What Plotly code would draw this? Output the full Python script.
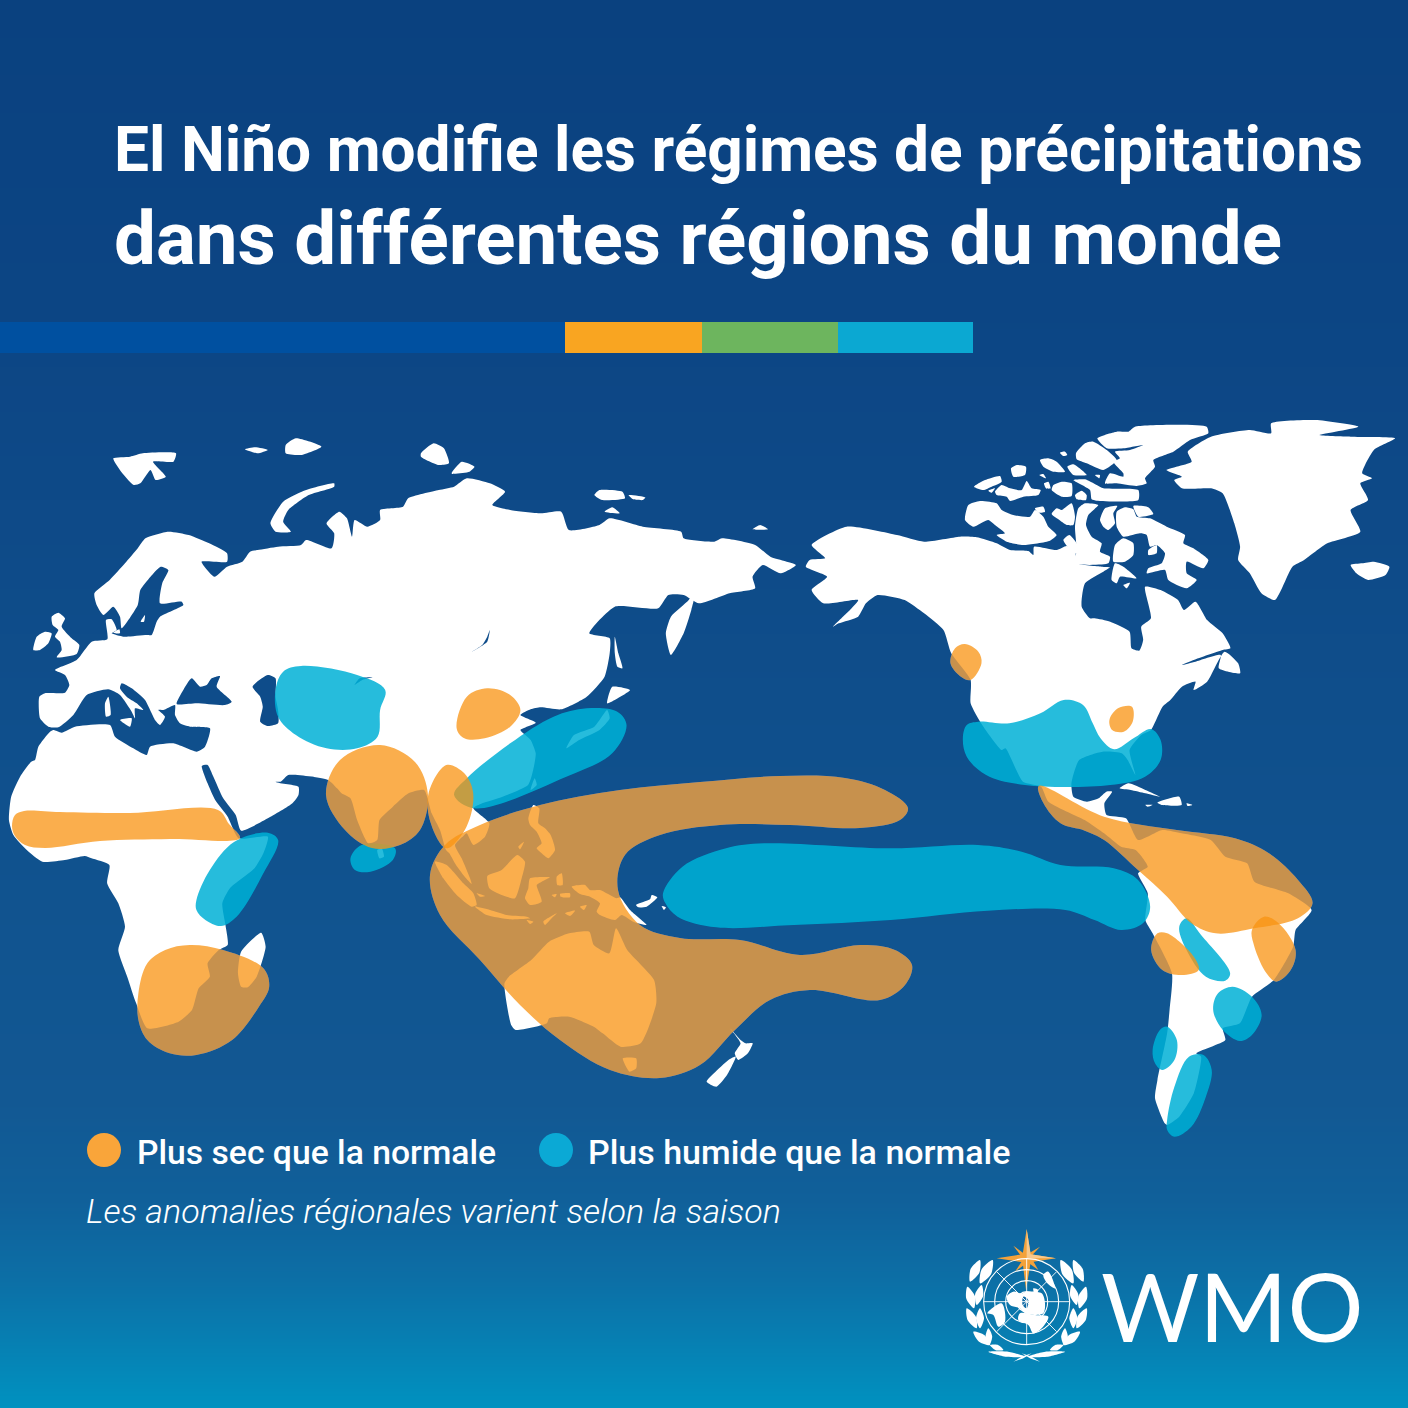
import plotly.graph_objects as go

# ---------- text ----------
TITLE_LINE_1 = "El Niño modifie les régimes de précipitations"
TITLE_LINE_2 = "dans différentes régions du monde"
LEGEND_DRY = "Plus sec que la normale"
LEGEND_WET = "Plus humide que la normale"
NOTE = "Les anomalies régionales varient selon la saison"
LOGO_TEXT = "WMO"

# ---------- background gradient ----------
BG_Y = [0, 300, 700, 1100, 1200, 1280, 1340, 1408]
BG_COLORS = ["#0A417F", "#0C4584", "#0F4E8B", "#125893", "#10609A", "#0C6FA6", "#077FB2", "#0092C0"]

# ---------- colour strip ----------
STRIP_EDGES = [0, 565, 702, 838, 973]
STRIP_COLORS = ["#0050A0", "#F9A521", "#6DB55E", "#0BA8D2"]

V1 = (0, 420, 1.96, 3)
V2 = (800, 410, 2.579, 3)
V3 = (0, 760, 2.24, 3)
V4 = (600, 760, 2.063, 3)
V5 = (950, 1220, 3, 3)
V6 = (960, 420, 3, 3)
V7 = (430, 790, 3, 3)
V8 = (20, 600, 3, 3)
V9 = (960, 1225, 3, 3)

def cv(view, pts):
    x0, y0, sx, sy = view
    return [(x0 + p[0] / sx, y0 + p[1] / sy) for p in pts]

EURASIA_AFRICA = (
    cv(V1, [(185,520),(215,480),(245,430),(270,385),(285,355),(330,335),(370,345),(410,370),(445,400),(445,425),(395,425),(420,470),(445,440),(475,425),(490,395),(505,390),(545,380),(590,375),(600,360),(650,385),(655,340),(640,310),(665,275),(680,295),(690,350),(695,300),(720,320),(745,300),(745,270),(790,260),(800,235),(860,210),(890,200),(915,175),(960,190),(990,215),(965,255),(1000,270),(1060,280),(1100,275),(1115,330),(1175,315),(1195,295),(1260,320),(1335,335),(1340,355),(1400,365),(1415,355),(1480,375),(1510,410),(1560,435),(1530,460),(1495,435),(1475,470),(1480,505),(1430,520),(1370,550),(1340,525),(1310,525),(1290,565),(1205,560),(1155,640),(1195,655),(1195,700),(1185,770),(1150,830),(1100,868),(1060,862),(1040,868),(1020,885),(1050,908),(1020,930),(1040,960),(1050,1000),(1045,1050),(1035,1095),(985,1130),(945,1150)])
    + cv(V7, [(130,55),(178,100),(165,140),(130,165),(110,130),(100,138),(75,165),(95,205),(120,265),(125,282),(108,265),(78,225),(58,190),(48,180),(30,120),(5,70)])
    + cv(V3, [(950,90),(915,100),(880,140),(850,180),(845,240),(825,250),(800,180),(785,115),(765,100),(755,85),(735,60),(650,40)])
    + cv(V1, [(640,1075),(565,1065),(550,1085),(525,1080),(505,1010),(515,1035),(540,1085),(585,1100),(585,1125)])
    + cv(V3, [(655,130),(600,175),(540,212),(528,165),(500,115),(478,50),(465,15),(452,18),(465,70),(482,120),(510,170),(535,235),(600,230),(590,280),(570,325),(515,385),(498,430),(505,495),(510,555),(490,570),(465,610),(470,650),(445,685),(430,750),(400,785),(330,805),(305,730),(285,650),(265,570),(280,500),(265,430),(240,370),(245,315),(205,295),(190,288),(145,300),(95,305),(60,270),(30,225),(20,180),(25,110),(45,50),(70,5)])
    + cv(V8, [(45,480),(55,440),(90,395),(100,390),(125,398),(165,380),(270,375),(285,410),(340,445),(380,465),(390,440),(460,430),(530,455),(555,440),(570,385),(510,380),(480,370),(465,345),(465,315),(430,330),(415,330),(435,350),(420,375),(405,360),(395,340),(375,300),(335,265),(305,250),(300,265),(320,290),(350,310),(370,330),(345,325),(345,355),(335,335),(300,285),(265,268),(200,285),(160,345),(115,382),(85,380),(60,355),(58,290),(75,280),(135,278),(148,255),(135,225),(105,210),(170,180),(215,125),(262,118),(258,60),(275,58),(290,90),(275,100),(310,110),(320,110),(380,105),(395,105),(410,65),(420,50),(490,15),(485,5),(420,10)])
    + cv(V1, [(318,490),(330,450),(315,440),(295,470),(275,510),(270,555)])
    + cv(V8, [(305,85),(300,50),(280,20),(250,45),(230,15)])
)
AMERICAS = (
    cv(V2, [(30,405),(120,350),(250,375),(320,395)])
    + cv(V6, [(0,350),(50,352),(110,370),(150,390),(205,393),(220,405),(222,380),(290,390),(320,378),(345,395),(352,430),(425,440),(450,442),(430,455),(375,490),(365,560),(390,595)])
    + cv(V2, [(760,625),(800,635),(850,665),(855,715),(875,722),(885,690),(880,650),(905,625),(890,530),(930,540),(975,570),(990,600),(1020,575),(1050,630),(1090,670),(1110,715),(1090,720),(1015,750),(985,765),(1020,755),(1085,735),(1080,775),(1135,790),(1130,760),(1095,725),(1050,815),(1015,840),(1020,815),(985,830),(955,870),(935,890),(905,960),(880,975),(850,1020),(865,1095),(845,1050),(830,1030),(780,1025),(720,1050),(700,1120),(705,1160),(740,1175),(770,1165),(790,1145),(805,1145),(785,1180)])
    + cv(V4, [(1045,165),(1085,175),(1110,240),(1160,210),(1200,220),(1260,240),(1290,290),(1335,310),(1350,365),(1420,400),(1468,450),(1435,510),(1430,560),(1390,660),(1345,710),(1320,790),(1285,805),(1290,840),(1230,880),(1240,890),(1225,1000),(1195,1070),(1170,1095),(1165,1090),(1145,1015),(1150,960),(1170,820),(1175,750),(1180,640),(1140,520),(1125,480),(1130,400),(1110,340),(1130,320),(1105,270),(1075,260),(1040,220),(1000,180),(925,125),(910,80)])
    + cv(V2, [(575,1115),(530,1015),(520,1020),(470,945),(440,880),(440,810),(390,730),(370,660),(320,610),(270,570),(200,555),(170,580),(150,620),(100,640),(85,650),(120,610),(150,570),(60,580),(30,540),(70,500),(15,470),(25,450),(65,445)])
)
GREENLAND = cv(V2, [(945,180),(1010,155),(1000,125),(1060,80),(1160,60),(1215,70),(1215,40),(1330,30),(1440,50),(1340,75),(1420,80),(1535,85),(1480,120),(1450,190),(1475,205),(1445,220),(1465,270),(1420,300),(1445,365),(1360,400),(1300,450),(1270,470),(1225,570),(1190,550),(1160,490),(1130,450),(1135,410),(1120,340),(1090,250),(1060,235),(985,235),(965,210),(985,200)])
ISLANDS = [
    cv(V1, p) for p in [
        [(222,115),(255,110),(280,100),(345,100),(340,125),(300,125),(325,170),(305,180),(295,150),(275,190),(262,195),(235,150)],
        [(480,88),(500,82),(525,90),(505,100)],
        [(560,75),(580,55),(630,80),(590,105),(560,100)],
        [(530,310),(555,245),(600,210),(655,190),(655,200),(605,225),(565,270),(555,305),(570,335),(540,335)],
        [(825,100),(850,70),(870,85),(880,130),(860,135),(825,110)],
        [(885,160),(905,125),(930,140),(920,155)],
        [(1165,225),(1175,210),(1220,215),(1225,235),(1180,240)],
        [(1232,225),(1265,232),(1260,240),(1240,237)],
        [(1185,275),(1200,262),(1215,280)],
        [(1475,328),(1490,315),(1505,328)],
        [(1205,650),(1212,700),(1220,745),(1210,740),(1205,700)],
        [(1365,505),(1355,570),(1340,640),(1315,705),(1305,640),(1315,590),(1350,540)],
        [(1190,850),(1200,800),(1235,810),(1205,840)],
        [(1110,985),(1125,945),(1165,920),(1190,870),(1195,895),(1175,930),(1135,960)],
        [(1040,1110),(1048,1075),(1052,1095)],
    ]
] + [
    cv(V8, p) for p in [
        [(95,50),(115,38),(135,55),(125,80),(155,115),(178,135),(170,162),(110,172),(125,150),(120,125),(105,110),(115,90),(98,75)],
        [(40,150),(50,110),(75,95),(95,100),(85,130),(60,150)],
        [(255,310),(265,290),(272,345),(258,350)],
        [(300,360),(335,355),(330,380)],
        [(362,65),(375,45),(372,65)],
        [(280,98),(298,88),(300,100)],
    ]
] + [
    cv(V3, p) for p in [
        [(845,270),(855,265),(860,290),(850,295)],
        [(540,575),(585,518),(595,560),(575,650),(555,682),(540,680),(533,640)],
        [(1140,650),(1190,600),(1230,545),(1275,520),(1320,515),(1330,555),(1365,580),(1380,505),(1405,570),(1465,660),(1470,730),(1435,850),(1390,860),(1350,820),(1330,800),(1275,770),(1230,775),(1225,790),(1155,810),(1145,795),(1130,670)],
        [(1395,895),(1425,895),(1425,925),(1410,935)],
    ]
] + [
    cv(V7, p) for p in [
        [(295,85),(310,45),(328,55),(325,100),(345,115),(362,135),(375,180),(355,205),(335,190),(320,175),(335,160),(320,125),(300,105)],
        [(265,170),(282,155),(270,178)],
        [(172,258),(215,240),(262,195),(285,215),(275,265),(255,325),(215,315),(178,295)],
        [(300,265),(360,262),(335,275),(320,285),(335,335),(300,345),(285,325),(295,295)],
        [(380,260),(395,250),(398,285),(382,285)],
        [(15,215),(50,225),(100,280),(130,310),(140,345),(125,350),(80,315),(40,265)],
        [(140,310),(165,318),(150,320)],
        [(135,350),(180,360),(230,375),(290,380),(300,385),(240,388),(170,375)],
        [(290,390),(310,395),(300,402)],
        [(340,395),(380,370),(365,385),(345,405)],
        [(365,315),(380,312),(375,322)],
        [(390,312),(420,310),(420,322),(392,320)],
        [(450,350),(470,345),(462,360)],
        [(405,370),(435,362),(420,378)],
        [(425,290),(465,285),(480,300),(510,300),(560,325),(570,322),(600,360),(650,405),(610,395),(575,375),(555,390),(510,375),(500,365),(510,340),(480,320),(450,312)],
        [(618,345),(660,328),(665,315),(682,322),(650,350),(625,352)],
        [(695,348),(708,352),(702,360)],
    ]
] + [
    cv(V4, p) for p in [
        [(268,805),(290,840),(300,850),(315,850),(305,880),(285,900),(278,880),(290,850)],
        [(280,890),(262,945),(240,980),(220,965),(235,940),(265,900)],
        [(1072,85),(1090,70),(1125,90),(1155,110),(1125,100),(1095,90)],
        [(1150,128),(1195,110),(1200,135),(1160,135)],
        [(1210,130),(1222,135),(1212,138)],
        [(1125,135),(1140,135),(1130,140)],
    ]
] + [
    cv(V6, p) for p in [
        [(15,300),(25,255),(60,243),(110,250),(125,270),(160,285),(210,290),(225,270),(250,290),(265,320),(290,345),(270,362),(190,375),(140,365),(110,345),(135,340),(105,315),(85,300),(40,320)],
        [(42,200),(75,180),(120,168),(125,185),(95,200),(70,210)],
        [(85,212),(105,205),(95,218)],
        [(105,215),(125,195),(150,205),(185,210),(200,183),(215,205),(242,210),(235,225),(190,230),(150,243),(140,230),(110,225)],
        [(153,145),(170,135),(198,140),(195,165),(160,170)],
        [(240,120),(265,115),(290,125),(315,155),(280,155),(250,140)],
        [(322,140),(340,133),(365,150),(380,165),(340,165)],
        [(300,98),(315,95),(322,105),(310,108)],
        [(238,165),(250,162),(258,175)],
        [(280,195),(305,185),(335,190),(335,228),(305,230),(275,210)],
        [(252,190),(265,185),(272,205),(258,205)],
        [(345,225),(365,212),(380,225),(378,240),(350,238)],
        [(340,180),(375,178),(410,195),(430,205),(535,210),(535,240),(410,242),(395,238),(390,210)],
        [(412,55),(470,35),(505,35),(525,20),(740,20),(745,40),(690,60),(640,95),(580,120),(585,140),(555,175),(560,190),(530,198),(470,190),(435,190),(450,160),(490,170),(490,160),(460,125),(480,115),(465,95),(510,90),(550,75),(490,85),(440,85)],
        [(348,100),(375,70),(400,65),(440,90),(470,120),(430,150),(380,130),(350,118)],
        [(405,165),(420,165),(418,175)],
        [(275,282),(290,265),(305,270),(335,250),(345,290),(340,315),(320,315),(295,298)],
        [(225,265),(250,260),(255,275),(235,278)],
        [(345,320),(355,265),(375,250),(415,255),(385,285),(378,315),(395,350),(425,370),(420,395),(450,410),(445,430),(340,430),(350,395)],
        [(465,375),(490,355),(520,370),(520,405),(495,425),(460,425)],
        [(310,360),(328,345),(350,370),(355,400),(340,400)],
        [(470,275),(495,262),(520,268),(530,290),(570,295),(620,320),(675,345),(670,370),(700,385),(745,420),(730,445),(680,425),(680,460),(710,480),(680,505),(625,480),(615,450),(560,460),(565,445),(605,430),(615,400),(590,375),(570,380),(560,345),(540,340),(490,350),(470,320)],
        [(520,258),(565,262),(580,282),(535,290)],
        [(420,300),(435,265),(472,258),(460,280),(465,310),(445,330),(430,320)],
        [(565,390),(590,375),(590,400),(565,405)],
        [(455,480),(465,430),(490,440),(530,475),(480,470),(470,490)],
        [(490,495),(510,488),(500,505)],
    ]
] + [
    cv(V2, [(1420,465),(1450,460),(1480,455),(1520,470),(1510,495),(1465,510),(1435,490)]),
]
WATER = [
    cv(V1, [(495,800),(525,765),(540,775),(540,830),(545,870),(545,910),(525,918),(510,905),(515,860),(510,830)]),
    cv(V8, [(470,312),(490,270),(515,235),(540,260),(560,255),(575,235),(600,228),(590,260),(635,305),(615,315),(530,310)]),
    cv(V1, [(960,630),(955,665),(925,695),(945,675),(955,650)]),
    cv(V1, [(695,795),(705,775),(730,772),(710,780)]),
]

DRY_ZONES = [
    [(12,826),(15,815),(24,811),(60,812),(130,813),(218,810),(229,824),(240,838),(170,839),(100,841),(45,848),(25,845),(15,836)],
    cv(V3, [(310,700),(330,610),(370,570),(425,555),(500,570),(590,625),(603,680),(580,740),(520,840),(440,885),(380,880),(330,840),(310,780)]),
    [(326,795),(340,760),(380,745),(415,762),(428,795),(420,830),(400,845),(372,848),(345,830)],
    cv(V3, [(960,100),(965,190),(1000,265),(1045,200),(1060,100),(1040,40),(1000,15)]),
    [(908,808),(885,790),(845,778),(780,776),(700,782),(620,790),(540,805),(480,825),(445,845),(430,875),(440,915),(480,960),(520,1005),(560,1040),(610,1070),(660,1078),(700,1065),(735,1030),(770,1000),(810,990),(880,1000),(905,985),(912,965),(895,950),(860,945),(800,955),(740,940),(680,938),(640,925),(618,890),(625,855),(660,835),(720,825),(790,825),(860,828),(900,820)],
    cv(V1, [(895,925),(915,830),(955,805),(1000,825),(1020,870),(1000,920),(950,955),(910,955)]),
    cv(V2, [(388,760),(400,715),(425,702),(460,725),(468,760),(440,810),(415,800)]),
    cv(V2, [(798,930),(820,895),(856,890),(858,935),(835,965),(805,960)]),
    cv(V4, [(905,78),(1040,170),(1190,210),(1310,235),(1380,280),(1440,360),(1470,430),(1440,475),(1350,505),(1270,520),(1220,490),(1170,410),(1110,330),(1040,240),(1000,212),(950,190),(915,130)]),
    cv(V4, [(1345,510),(1370,470),(1400,490),(1435,570),(1425,630),(1395,665),(1375,640),(1350,560)]),
    cv(V4, [(1137,570),(1150,520),(1170,520),(1225,590),(1235,630),(1200,645),(1160,630)]),
]
WET_ZONES = [
    cv(V4, [(130,400),(170,320),(260,265),(340,250),(600,265),(780,255),(870,275),(950,315),(1060,325),(1110,360),(1135,440),(1120,490),(1075,510),(1020,480),(960,450),(800,452),(600,480),(400,495),(240,502),(160,470),(135,430)]),
    cv(V1, [(540,810),(555,755),(590,738),(700,765),(755,810),(745,870),(740,950),(700,985),(640,985),(580,945),(545,890)]),
    cv(V1, [(915,1075),(1000,970),(1085,890),(1150,865),(1210,875),(1228,915),(1200,1000),(1110,1070),(930,1165),(890,1125)]),
    cv(V3, [(440,420),(470,330),(525,245),(600,218),(623,240),(590,340),(530,470),(495,498),(460,480),(440,450)]),
    cv(V3, [(785,295),(810,255),(885,265),(880,300),(830,335),(795,330)]),
    cv(V2, [(420,985),(430,945),(460,935),(540,940),(620,910),(680,870),(730,885),(755,940),(775,985),(810,1018),(860,985),(905,957),(930,990),(930,1050),(890,1100),(800,1125),(580,1125),(480,1095),(430,1040)]),
    cv(V4, [(1195,500),(1210,475),(1240,525),(1300,640),(1290,662),(1250,650),(1210,570)]),
    cv(V4, [(1265,750),(1275,700),(1305,680),(1345,710),(1365,765),(1345,825),(1320,843),(1285,810)]),
    cv(V4, [(1140,870),(1155,810),(1170,800),(1190,840),(1185,900),(1160,930),(1145,910)]),
    cv(V4, [(1170,1080),(1185,980),(1215,890),(1245,885),(1262,930),(1250,1010),(1220,1100),(1185,1130),(1170,1110)]),
]

# ---------- logo ----------
LOGO_CENTER = cv(V9, [(200, 230)])[0]
LOGO_RADII = [43, 32, 21, 10]
STAR_MAIN = cv(V9, [(200,12),(212,88),(288,100),(212,112),(198,195),(188,112),(110,100),(188,88)])
STAR_DIAG = cv(V9, [(240,65),(212,95),(235,135),(203,112),(165,140),(190,102),(160,62),(198,90)])
STAR_SHADE = cv(V9, [(200,12),(212,88),(288,100),(200,100)])
GLOBE_LAND = [
    cv(V9, [(82,265),(125,235),(135,290),(115,305),(100,270)]),
    cv(V9, [(140,215),(160,200),(185,205),(200,200),(245,205),(255,235),(250,265),(225,270),(195,265),(180,250),(150,240)]),
    cv(V9, [(180,265),(225,270),(265,275),(245,310),(220,325),(205,300),(175,285)]),
    cv(V9, [(250,150),(265,140),(285,190),(262,175)]),
    cv(V9, [(220,190),(235,195),(225,210)]),
]
GLOBE_WATER = [cv(V9, [(190,215),(205,225),(200,250),(188,240)])]
LEAVES_LEFT = [(60,105,30,170),(98,105,60,175),(22,185,42,250),(65,180,50,240),(20,250,50,310),(60,250,60,310),(40,320,90,360),(85,310,88,360),(90,360,130,375),(85,380,195,395)]
LOGO_STEMS = [(160,410,215,385),(240,410,185,385)]

COL_DRY_TOP = "rgba(248,147,18,0.75)"
COL_DRY_UNDER = "rgb(55,139,255)"
COL_WET_TOP = "rgba(0,176,214,0.85)"
COL_WET_UNDER = "rgb(2,88,148)"
WATER_COLOR = "#0E4C8A"

# ---------- figure ----------
fig = go.Figure()
fig.add_trace(go.Heatmap(
    x=[-10, 1420], y=BG_Y, z=[[v, v] for v in BG_Y], zsmooth="best", showscale=False, hoverinfo="skip",
    zmin=0, zmax=1408, colorscale=[[y / 1408, c] for y, c in zip(BG_Y, BG_COLORS)],
))

def poly(pts, color, smooth=0.0):
    fig.add_trace(go.Scatter(
        x=[p[0] for p in pts] + [pts[0][0]], y=[p[1] for p in pts] + [pts[0][1]],
        mode="lines", fill="toself", fillcolor=color, hoverinfo="skip", showlegend=False,
        line=dict(width=0, color="rgba(0,0,0,0)", shape="spline" if smooth else "linear", smoothing=smooth or None),
    ))

for z in WET_ZONES:
    poly(z, COL_WET_UNDER, 1.0)
for z in DRY_ZONES:
    poly(z, COL_DRY_UNDER, 1.0)
for part in [EURASIA_AFRICA, AMERICAS, GREENLAND] + ISLANDS:
    poly(part, "white", 0.55)
for w in WATER:
    poly(w, WATER_COLOR, 0.6)
for z in WET_ZONES:
    poly(z, COL_WET_TOP, 1.0)
for z in DRY_ZONES:
    poly(z, COL_DRY_TOP, 1.0)

# legend dots
fig.add_trace(go.Scatter(x=[104, 556], y=[1150, 1150], mode="markers", hoverinfo="skip", showlegend=False,
                         marker=dict(size=34, color=["#F9A53A", "#0BA9D5"], line=dict(width=0))))

# logo
cx, cy = LOGO_CENTER
shapes = []
for r in LOGO_RADII:
    shapes.append(dict(type="circle", x0=cx - r, x1=cx + r, y0=cy - r, y1=cy + r,
                       line=dict(color="white", width=1.1), fillcolor="rgba(0,0,0,0)"))
for a, b, c, d in [(cx - 43, cy, cx + 43, cy), (cx, cy - 43, cx, cy + 43),
                   (cx - 30, cy - 30, cx + 30, cy + 30), (cx - 30, cy + 30, cx + 30, cy - 30)]:
    shapes.append(dict(type="line", x0=a, y0=b, x1=c, y1=d, line=dict(color="white", width=0.9)))
for i, col in enumerate(STRIP_COLORS):
    shapes.append(dict(type="rect", x0=STRIP_EDGES[i], x1=STRIP_EDGES[i + 1], y0=322, y1=353,
                       fillcolor=col, line=dict(width=0)))

for g in GLOBE_LAND:
    poly(g, "white", 0.9)
for g in GLOBE_WATER:
    poly(g, "#0F6AA4", 0.9)
def leaf(x1, y1, x2, y2, w=0.2):
    mx, my = (x1 + x2) / 2, (y1 + y2) / 2
    nx, ny = -(y2 - y1) * w, (x2 - x1) * w
    return cv(V9, [(x1, y1), (mx + nx, my + ny), (x2, y2), (mx - nx, my - ny)])
for l in LEAVES_LEFT:
    w = 0.07 if l[2] - l[0] > 80 else 0.2
    poly(leaf(*l, w=w), "white", 0.8)
    poly(leaf(400 - l[0], l[1], 400 - l[2], l[3], w=w), "white", 0.8)
for l in LOGO_STEMS:
    poly(leaf(*l, w=0.05), "white")
poly(STAR_DIAG, "#F3A23B")
poly(STAR_MAIN, "#F3A23B")
poly(STAR_SHADE, "#F8C98C")

def label(x, y, text, size, family, color="white", weight=400, style="normal"):
    return dict(x=x, y=y, text=text, xref="x", yref="y", xanchor="left", yanchor="middle", showarrow=False,
                align="left", font=dict(size=size, family=family, color=color, weight=weight, style=style))

fig.update_layout(
    width=1408, height=1408, margin=dict(l=0, r=0, t=0, b=0, pad=0),
    paper_bgcolor="#0C4584", plot_bgcolor="#0C4584",
    xaxis=dict(range=[0, 1408], visible=False, fixedrange=True),
    yaxis=dict(range=[1408, 0], visible=False, fixedrange=True),
    shapes=shapes,
    annotations=[
        label(112, 149, TITLE_LINE_1, 62.2, "Roboto", weight=700),
        label(112, 238, TITLE_LINE_2, 74.5, "Roboto", weight=700),
        label(135, 1152, LEGEND_DRY, 33.7, "Roboto", weight=500),
        label(586, 1152, LEGEND_WET, 34, "Roboto", weight=500),
        label(84, 1211, NOTE, 34, "Roboto", weight=300, style="italic"),
        label(1099, 1305, LOGO_TEXT, 95, "Lato", weight=400),
    ],
)
fig.write_html("out.html", post_script="document.body.style.margin='0';", config={"displayModeBar": False})
